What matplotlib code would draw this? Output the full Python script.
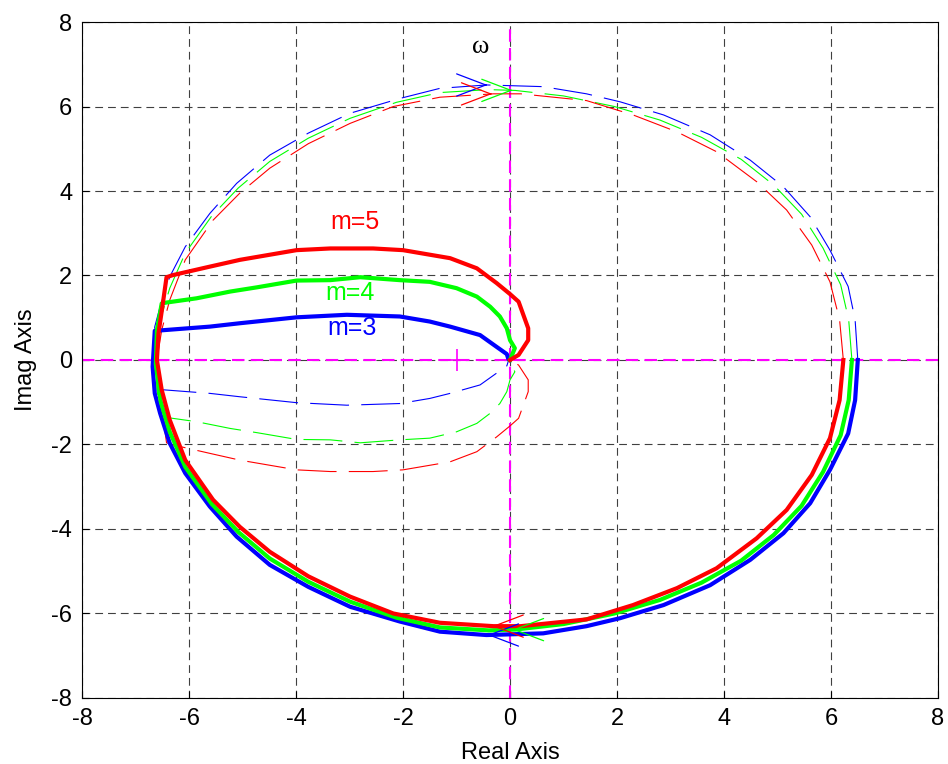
import numpy as np
import matplotlib
matplotlib.use("Agg")
import matplotlib.pyplot as plt

plt.rcParams["axes.unicode_minus"] = False
plt.rcParams["font.family"] = ["Liberation Sans", "DejaVu Sans"]

# Nyquist curves (positive frequency branch, omega increasing)
m3_re = [6.50, 6.45, 6.32, 5.98, 5.61, 5.11, 4.49, 3.74, 2.87, 2.06, 1.43, 0.62, -0.44,
         -1.31, -2.06, -2.99, -3.77, -4.49, -5.11, -5.61, -6.07, -6.36, -6.54, -6.64,
         -6.68, -6.64, -5.61, -5.05, -3.99, -3.05, -2.06, -1.50, -1.12, -0.56, -0.25,
         -0.06, -0.03, 0.0]
m3_im = [0.0, -0.95, -1.74, -2.60, -3.39, -4.10, -4.73, -5.33, -5.80, -6.11, -6.30, -6.47, -6.51,
         -6.43, -6.19, -5.84, -5.37, -4.85, -4.18, -3.47, -2.68, -1.97, -1.26, -0.79,
         -0.16, 0.69, 0.79, 0.87, 1.01, 1.07, 1.03, 0.91, 0.79, 0.59, 0.31,
         0.14, 0.02, 0.0]

m4_re = [6.39, 6.33, 6.18, 5.85, 5.45, 4.93, 4.32, 3.58, 2.80, 1.95, 1.00, 0.10, -0.40,
         -1.31, -2.12, -2.99, -3.77, -4.49, -5.08, -5.58, -6.07, -6.36, -6.53, -6.62,
         -6.60, -6.51, -6.42, -5.86, -5.23, -4.73, -3.99, -3.36, -2.80, -2.06, -1.50,
         -1.00, -0.62, -0.37, -0.19, -0.06, 0.0, 0.09, 0.0]
m4_im = [0.0, -0.95, -1.78, -2.65, -3.45, -4.14, -4.75, -5.27, -5.68, -6.00, -6.25, -6.38, -6.40,
         -6.33, -6.10, -5.72, -5.25, -4.70, -4.07, -3.40, -2.53, -1.70, -0.98, -0.10,
         0.70, 1.34, 1.36, 1.46, 1.62, 1.72, 1.88, 1.89, 1.96, 1.89, 1.85,
         1.70, 1.50, 1.26, 1.03, 0.75, 0.47, 0.28, 0.0]

m5_re = [6.23, 6.16, 5.98, 5.64, 5.17, 4.61, 3.86, 3.12, 2.30, 1.43, 0.20, -0.31,
         -1.31, -2.18, -2.99, -3.77, -4.49, -5.05, -5.55, -6.07, -6.36, -6.51, -6.60,
         -6.57, -6.48, -6.42, -6.30, -5.61, -5.05, -3.99, -3.36, -2.56, -2.00, -1.12,
         -0.62, -0.25, 0.0, 0.16, 0.34, 0.34, 0.16, 0.0]
m5_im = [0.0, -0.95, -1.85, -2.72, -3.55, -4.22, -4.93, -5.40, -5.80, -6.14, -6.30, -6.30,
         -6.22, -6.00, -5.60, -5.12, -4.54, -3.95, -3.31, -2.37, -1.42, -0.71, 0.0,
         0.63, 1.42, 1.96, 2.01, 2.21, 2.37, 2.60, 2.64, 2.64, 2.60, 2.41,
         2.17, 1.82, 1.56, 1.38, 0.75, 0.47, 0.12, 0.0]

labels = ["m=3", "m=4", "m=5"]
colors = ["#0000ff", "#00ff00", "#ff0000"]
label_xy = [(-2.95, 0.76), (-3.0, 1.59), (-2.9, 3.27)]
arrow_x = [-0.42, 0.05, -0.33]

fig = plt.figure(figsize=(9.48, 7.64), dpi=100)
ax = fig.add_axes([0.0865, 0.0864, 0.903, 0.8848])

ax.set_xlim(-8, 8)
ax.set_ylim(-8, 8)
ax.set_xticks(np.arange(-8, 9, 2))
ax.set_yticks(np.arange(-8, 9, 2))
ax.grid(True, color="0.25", linewidth=0.8, linestyle=(0, (7, 4.5)))
ax.set_axisbelow(True)

# axes through origin and critical point
ax.axhline(0, color="#ff00ff", linewidth=1.5, linestyle=(0, (6, 3)), zorder=1)
ax.axvline(0, color="#ff00ff", linewidth=1.5, linestyle=(0, (6, 3)), zorder=1)
ax.plot(-1, 0, marker="+", color="#ff00ff", markersize=16, mew=1.2, zorder=1)

series = [(m3_re, m3_im), (m4_re, m4_im), (m5_re, m5_im)]
for (re, im), c, lab, xy, ax_x in zip(series, colors, labels, label_xy, arrow_x):
    re = np.array(re)
    im = np.array(im)
    ax.plot(re, im, color=c, linewidth=3.0, zorder=3)
    ax.plot(re, -im, color=c, linewidth=0.8, dashes=[35, 11], zorder=2)
    ax.text(xy[0], xy[1], lab, color=c, fontsize=18, ha="center", va="center")

    # arrows near the imaginary axis
    lower = im < -5
    ly = np.interp(ax_x, re[lower][::-1], im[lower][::-1])
    aprops = dict(arrowstyle="->,head_length=2.1,head_width=0.8", color=c,
                  lw=0.9, shrinkA=0, shrinkB=0)
    ax.annotate("", xy=(ax_x, ly), xytext=(ax_x + 0.05, ly), arrowprops=aprops, zorder=4)
    ax.annotate("", xy=(ax_x, -ly), xytext=(ax_x - 0.05, -ly), arrowprops=aprops, zorder=4)

ax.text(-0.55, 7.4, "ω", fontsize=19, family="Liberation Serif", ha="center", va="center")

ax.tick_params(direction="in", labelsize=17, length=5, pad=7)
ax.set_xlabel("Real Axis", fontsize=17, labelpad=9)
ax.set_ylabel("Imag Axis", fontsize=17, labelpad=10)

fig.savefig("out.png", dpi=100)
